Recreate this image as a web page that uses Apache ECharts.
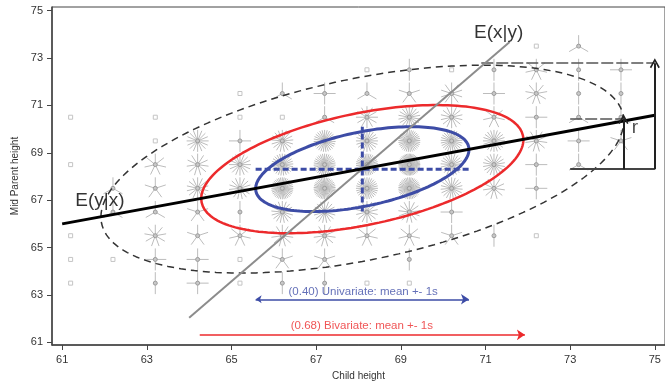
<!DOCTYPE html>
<html>
<head>
    <meta charset="utf-8">
    <title>Galton sunflower plot</title>
    <script src="https://cdn.jsdelivr.net/npm/echarts@6/dist/echarts.min.js"></script>
    <style>
        html, body { margin: 0; padding: 0; background: #fff; }
        #chart1 { width: 665px; height: 386px; }
    </style>
</head>
<body>
<div id="chart1"></div>
<script>
    // grid of the frequency table (Below/Above bins shown at the outer positions)
    var childHeight = [61.2, 62.2, 63.2, 64.2, 65.2, 66.2, 67.2, 68.2, 69.2, 70.2, 71.2, 72.2, 73.2, 74.2];
    var parentHeight = [63.5, 64.5, 65.5, 66.5, 67.5, 68.5, 69.5, 70.5, 71.5, 72.5, 73.5];
    // one row per parentHeight, one column per childHeight
    var counts = [
        [1, 0, 2, 4, 1, 2, 2, 1, 1, 0, 0, 0, 0, 0],
        [1, 1, 4, 4, 1, 5, 5, 0, 2, 0, 0, 0, 0, 0],
        [1, 0, 9, 5, 7, 11, 11, 7, 7, 5, 2, 1, 0, 0],
        [0, 3, 3, 5, 2, 17, 17, 14, 13, 4, 0, 0, 0, 0],
        [0, 3, 5, 14, 15, 36, 38, 28, 38, 19, 11, 4, 0, 0],
        [1, 0, 7, 11, 16, 25, 31, 34, 48, 21, 18, 4, 3, 0],
        [0, 0, 1, 16, 4, 17, 27, 20, 33, 25, 20, 11, 4, 5],
        [1, 0, 1, 0, 1, 1, 3, 12, 18, 14, 7, 4, 3, 3],
        [0, 0, 0, 0, 1, 3, 4, 3, 5, 10, 4, 9, 2, 2],
        [0, 0, 0, 0, 0, 0, 0, 1, 2, 1, 2, 7, 2, 4],
        [0, 0, 0, 0, 0, 0, 0, 0, 0, 0, 0, 1, 3, 0]
    ];
    var xTicks = [61, 63, 65, 67, 69, 71, 73, 75];
    var yTicks = [61, 63, 65, 67, 69, 71, 73, 75];

    // summary statistics (child, parent)
    var means = [68.09, 68.31];
    var sds = [2.52, 1.79];
    var corr = 0.46;
    var ellipseRadii = [2.45, 1.51, 1.0];   // outer dashed, bivariate 68%, univariate 1s

    var lineYonX = [[61, 66.0], [75, 70.58]];
    var lineXonY = [[64.0, 62.04], [71.57, 73.67]];
    var arrowUni = [[65.57, 62.82], [70.61, 62.82]];
    var arrowBi = [[64.25, 61.32], [71.93, 61.32]];
    var arrowTop = [[75, 68.31], [75, 72.78]];
    var arrowR = [[74.26, 68.31], [74.26, 70.42]];
    var guideTop = [[70.9, 72.78], [75, 72.78]];
    var guideMid = [[73.0, 70.42], [74.26, 70.42]];
    var guideBase = [[73.0, 68.31], [75, 68.31]];

    var labelNames = ['E(x|y)', 'E(y|x)', 'r', '(0.40) Univariate: mean +- 1s', '(0.68) Bivariate: mean +- 1s'];
    var labelPos = [[71.31, 74.07], [61.89, 66.99], [74.53, 70.05], [68.11, 63.15], [68.08, 61.7]];

    var FONT = '"Liberation Sans", Arial, sans-serif';
    var BLUE = '#3d4ca6';
    var RED = '#ec2a2c';
    var CHEVRON = 'path://M0,9 L5,0 L10,9 L8.6,9.8 L5,3.2 L1.4,9.8 Z';

    var flowers = [];
    parentHeight.forEach(function (py, i) {
        childHeight.forEach(function (cx, j) {
            if (counts[i][j] > 0) flowers.push([cx, py, counts[i][j]]);
        });
    });

    function ellipse(c) {
        var pts = [];
        for (var k = 0; k <= 180; k++) {
            var t = 2 * Math.PI * k / 180;
            pts.push([
                means[0] + c * sds[0] * Math.cos(t),
                means[1] + c * sds[1] * (corr * Math.cos(t) + Math.sqrt(1 - corr * corr) * Math.sin(t))
            ]);
        }
        return pts;
    }

    function renderFlower(params, api) {
        var n = api.value(2);
        var p = api.coord([api.value(0), api.value(1)]);
        if (n === 1) {
            return {
                type: 'rect',
                shape: {x: p[0] - 2, y: p[1] - 2, width: 4, height: 4},
                style: {fill: '#fff', stroke: '#c4c4c4', lineWidth: 1}
            };
        }
        var L = 11;
        var kids = [];
        for (var k = 0; k < n; k++) {
            var a = Math.PI / 2 + 2 * Math.PI * k / n;
            kids.push({
                type: 'line',
                shape: {x1: p[0], y1: p[1], x2: p[0] + L * Math.cos(a), y2: p[1] - L * Math.sin(a)},
                style: {stroke: '#bcbcbc', lineWidth: 1}
            });
        }
        kids.push({
            type: 'circle',
            shape: {cx: p[0], cy: p[1], r: 2},
            style: {fill: '#c8c8c8', stroke: '#9a9a9a', lineWidth: 1}
        });
        return {type: 'group', children: kids};
    }

    function plain(data, color, width, type, z) {
        return {
            type: 'line', data: data, symbol: 'none', silent: true, z: z,
            lineStyle: {color: color, width: width, type: type || 'solid'}
        };
    }

    function arrows(list, color, width, sym, size, type, z) {
        return {
            type: 'lines', coordinateSystem: 'cartesian2d', silent: true, z: z,
            symbol: sym, symbolSize: size,
            lineStyle: {color: color, width: width, type: type || 'solid', opacity: 1},
            data: list.map(function (c) { return {coords: c}; })
        };
    }

    var labelStyle = [
        {color: '#000', fontSize: 19},
        {color: '#000', fontSize: 19},
        {color: '#222', fontSize: 19},
        {color: BLUE, fontSize: 11.5},
        {color: RED, fontSize: 11.5}
    ];

    var myChart1 = echarts.init(document.getElementById('chart1'));
    myChart1.setOption({
        animation: false,
        grid: {left: 52, right: -2, top: 7, bottom: 37, show: true, borderColor: '#444', borderWidth: 1},
        xAxis: {
            type: 'value', min: 60.76, max: 75.24,
            name: 'Child height', nameLocation: 'middle', nameGap: 26,
            nameTextStyle: {color: '#333', fontSize: 10, fontFamily: FONT},
            axisLine: {show: true, lineStyle: {color: '#444', width: 1.5}},
            axisTick: {show: true, length: 5, customValues: xTicks, lineStyle: {color: '#444'}},
            axisLabel: {customValues: xTicks, margin: 9, color: '#333', fontSize: 11, fontFamily: FONT},
            splitLine: {show: false}
        },
        yAxis: {
            type: 'value', min: 60.89, max: 75.15,
            name: 'Mid Parent height', nameLocation: 'middle', nameGap: 32,
            nameTextStyle: {color: '#333', fontSize: 10, fontFamily: FONT},
            axisLine: {show: true, lineStyle: {color: '#444', width: 1.5}},
            axisTick: {show: true, length: 5, customValues: yTicks, lineStyle: {color: '#444'}},
            axisLabel: {customValues: yTicks, margin: 9, color: '#333', fontSize: 11, fontFamily: FONT},
            splitLine: {show: false}
        },
        series: [
            {type: 'custom', data: flowers, renderItem: renderFlower, silent: true, z: 1},
            plain(ellipse(ellipseRadii[0]), '#333', 1.5, [7, 5], 3),
            plain(ellipse(ellipseRadii[1]), RED, 2.5, 'solid', 4),
            plain(ellipse(ellipseRadii[2]), BLUE, 3, 'solid', 5),
            plain([[means[0] - sds[0], means[1]], [means[0] + sds[0], means[1]]], BLUE, 3, [6, 3], 5),
            plain([[means[0], means[1] - sds[1]], [means[0], means[1] + sds[1]]], BLUE, 3, [6, 3], 5),
            plain(lineXonY, '#8c8c8c', 2, 'solid', 6),
            plain(lineYonX, '#000', 3, 'solid', 7),
            arrows([guideTop, guideMid], '#555', 1.5, ['none', 'none'], 0, [12, 3], 6),
            arrows([guideBase], '#444', 2, ['none', 'none'], 0, 'solid', 6),
            arrows([arrowTop, arrowR], '#222', 2, ['none', CHEVRON], [11, 10], 'solid', 8),
            arrows([arrowUni], BLUE, 1.5, ['arrow', 'arrow'], [6, 8], 'solid', 8),
            arrows([arrowBi], RED, 1.5, ['none', 'arrow'], [6, 8], 'solid', 8),
            {
                type: 'scatter', silent: true, z: 9, symbolSize: 1,
                itemStyle: {color: 'rgba(0,0,0,0)'},
                data: labelNames.map(function (n, i) {
                    return {
                        name: n, value: labelPos[i],
                        label: {
                            show: true, position: 'inside', formatter: '{b}',
                            color: labelStyle[i].color, fontSize: labelStyle[i].fontSize, fontFamily: FONT
                        }
                    };
                })
            }
        ]
    });
</script>
</body>
</html>
